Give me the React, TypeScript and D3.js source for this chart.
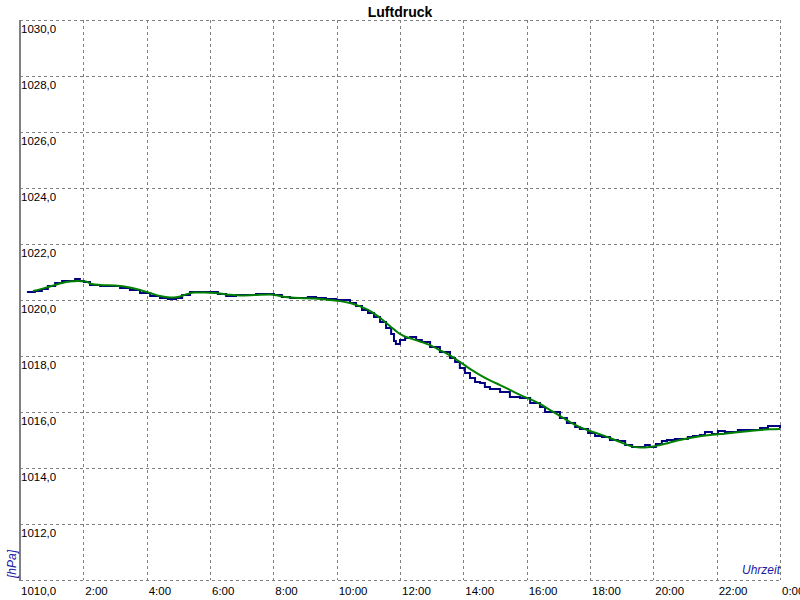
import React from "react";
import * as d3 from "d3";

const W = 800;
const H = 600;
const M = { left: 20, right: 20, top: 20, bottom: 20 };

const yTicks = [1010, 1012, 1014, 1016, 1018, 1020, 1022, 1024, 1026, 1028, 1030];
const xTicks = [0, 2, 4, 6, 8, 10, 12, 14, 16, 18, 20, 22, 24];
const xTickLabels = ["", "2:00", "4:00", "6:00", "8:00", "10:00", "12:00", "14:00", "16:00", "18:00", "20:00", "22:00", "0:00"];

// measured pressure (hours, hPa)
const measuredHours = [
  0.22, 0.47, 0.69, 0.88, 1.11, 1.33, 1.58, 1.74, 1.89, 2.02, 2.21, 2.53, 2.84, 3.16, 3.47, 3.79,
  4.11, 4.42, 4.67, 4.93, 5.12, 5.37, 5.68, 6.0, 6.25, 6.51, 6.82, 7.14, 7.45, 7.77, 8.02, 8.27,
  8.53, 8.84, 9.09, 9.35, 9.66, 9.98, 10.26, 10.42, 10.61, 10.8, 10.99, 11.18, 11.37, 11.56, 11.72,
  11.81, 11.87, 12.0, 12.16, 12.32, 12.51, 12.69, 12.95, 13.26, 13.58, 13.74, 13.89, 14.05, 14.21,
  14.37, 14.53, 14.68, 14.84, 15.16, 15.47, 15.79, 16.11, 16.42, 16.58, 16.83, 17.05, 17.27, 17.53,
  17.68, 17.94, 18.16, 18.38, 18.63, 18.88, 19.11, 19.33, 19.58, 19.74, 19.89, 20.08, 20.27, 20.43,
  20.68, 20.91, 21.09, 21.25, 21.47, 21.63, 21.85, 22.04, 22.26, 22.48, 22.67, 22.89, 23.12, 23.37,
  23.62, 23.84, 24.0,
];
const measuredValues = [
  1020.29, 1020.32, 1020.39, 1020.5, 1020.61, 1020.68, 1020.68, 1020.75, 1020.68, 1020.64, 1020.54,
  1020.5, 1020.5, 1020.43, 1020.36, 1020.25, 1020.14, 1020.07, 1020.04, 1020.07, 1020.18, 1020.29,
  1020.29, 1020.29, 1020.21, 1020.14, 1020.18, 1020.18, 1020.21, 1020.21, 1020.18, 1020.11, 1020.07,
  1020.07, 1020.11, 1020.07, 1020.04, 1020.0, 1020.0, 1019.89, 1019.79, 1019.64, 1019.54, 1019.39,
  1019.21, 1019.0, 1018.79, 1018.54, 1018.43, 1018.57, 1018.64, 1018.68, 1018.57, 1018.5, 1018.32,
  1018.14, 1017.93, 1017.79, 1017.57, 1017.39, 1017.21, 1017.07, 1017.04, 1016.89, 1016.82, 1016.71,
  1016.54, 1016.5, 1016.32, 1016.18, 1016.0, 1016.0, 1015.79, 1015.61, 1015.46, 1015.39, 1015.25,
  1015.14, 1015.11, 1015.0, 1014.96, 1014.82, 1014.75, 1014.75, 1014.82, 1014.75, 1014.86, 1014.96,
  1015.0, 1015.04, 1015.04, 1015.11, 1015.14, 1015.18, 1015.29, 1015.21, 1015.32, 1015.29, 1015.29,
  1015.36, 1015.36, 1015.36, 1015.43, 1015.5, 1015.5, 1015.43,
];

// smoothed pressure (hours, hPa)
const smoothHours = [
  0.41, 0.63, 0.88, 1.11, 1.33, 1.58, 1.83, 2.08, 2.27, 2.53, 3.0, 3.47, 3.79, 4.11, 4.42, 4.74, 4.99,
  5.24, 5.53, 5.84, 6.16, 6.54, 6.95, 7.42, 7.89, 8.37, 8.84, 9.32, 9.79, 10.11, 10.42, 10.74, 11.05,
  11.37, 11.68, 12.0, 12.19, 12.38, 12.63, 12.95, 13.26, 13.58, 13.89, 14.21, 14.53, 14.84, 15.16,
  15.47, 15.79, 16.11, 16.42, 16.74, 17.05, 17.37, 17.68, 18.0, 18.32, 18.63, 18.95, 19.26, 19.58,
  19.89, 20.21, 20.53, 20.84, 21.16, 21.47, 21.79, 22.11, 22.42, 22.74, 23.05, 23.37, 23.68, 24.0,
];
const smoothValues = [
  1020.32, 1020.38, 1020.46, 1020.54, 1020.61, 1020.66, 1020.68, 1020.66, 1020.57, 1020.54, 1020.52,
  1020.45, 1020.36, 1020.25, 1020.14, 1020.09, 1020.11, 1020.2, 1020.27, 1020.27, 1020.25, 1020.2,
  1020.16, 1020.18, 1020.2, 1020.11, 1020.07, 1020.05, 1020.0, 1019.96, 1019.89, 1019.77, 1019.61,
  1019.36, 1019.07, 1018.79, 1018.68, 1018.61, 1018.52, 1018.39, 1018.21, 1018.02, 1017.79, 1017.54,
  1017.32, 1017.13, 1016.96, 1016.79, 1016.61, 1016.46, 1016.29, 1016.07, 1015.86, 1015.64, 1015.46,
  1015.32, 1015.2, 1015.07, 1014.93, 1014.79, 1014.73, 1014.75, 1014.82, 1014.91, 1015.0, 1015.07,
  1015.13, 1015.18, 1015.21, 1015.25, 1015.29, 1015.32, 1015.36, 1015.38, 1015.39,
];

const FONT = "'Liberation Sans', Arial, sans-serif";

export default function App() {
  const x = d3.scaleLinear().domain([0, 24]).range([M.left, W - M.right]);
  const y = d3.scaleLinear().domain([1010, 1030]).range([H - M.bottom, M.top]);

  const measured = measuredHours.map((h, i) => [h, measuredValues[i]] as [number, number]);
  const smooth = smoothHours.map((h, i) => [h, smoothValues[i]] as [number, number]);

  const stepLine = d3
    .line<[number, number]>()
    .x((d) => x(d[0]))
    .y((d) => y(d[1]))
    .curve(d3.curveStepAfter);
  const smoothLine = d3
    .line<[number, number]>()
    .x((d) => x(d[0]))
    .y((d) => y(d[1]))
    .curve(d3.curveMonotoneX);

  return (
    <div style={{ position: "fixed", left: 0, top: 0, width: W, height: H, background: "#fff" }}>
      <svg width={W} height={H} style={{ display: "block" }} fontFamily={FONT}>
        <rect x={0} y={0} width={W} height={H} fill="#fff" />
        <text x={W / 2} y={17} textAnchor="middle" fontWeight="bold" fontSize={14} fill="#000">
          Luftdruck
        </text>
        {/* horizontal grid */}
        {yTicks.map((t) => (
          <line
            key={"h" + t}
            x1={x(0)}
            x2={x(24)}
            y1={Math.round(y(t)) + 0.5}
            y2={Math.round(y(t)) + 0.5}
            stroke="#808080"
            strokeWidth={1}
            strokeDasharray="3,3"
          />
        ))}
        {/* vertical grid */}
        {xTicks.slice(1).map((t) => (
          <line
            key={"v" + t}
            x1={Math.round(x(t)) + 0.5}
            x2={Math.round(x(t)) + 0.5}
            y1={y(1030)}
            y2={y(1010)}
            stroke="#808080"
            strokeWidth={1}
            strokeDasharray="3,3"
          />
        ))}
        {/* left axis */}
        <line x1={x(0)} x2={x(0)} y1={y(1030)} y2={y(1010) + 1} stroke="#808080" strokeWidth={2} />
        {/* y tick labels */}
        {yTicks.map((t) => (
          <text key={"yl" + t} x={x(0) + 1} y={t === 1010 ? 595 : y(t) + 13} fontSize={11.5} fill="#000">
            {d3.format(".1f")(t).replace(".", ",")}
          </text>
        ))}
        {/* x tick labels */}
        {xTicks.map((t, i) =>
          xTickLabels[i] ? (
            <text key={"xl" + t} x={x(t) + 2} y={595} fontSize={11.5} fill="#000">
              {xTickLabels[i]}
            </text>
          ) : null
        )}
        {/* axis titles */}
        <text
          transform={`translate(16,${y(1010) - 2}) rotate(-90)`}
          fontSize={12}
          fontStyle="italic"
          fill="#1a1aa6"
        >
          [hPa]
        </text>
        <text x={x(24)} y={574} textAnchor="end" fontSize={12} fontStyle="italic" fill="#1a1aa6">
          Uhrzeit
        </text>
        {/* series */}
        <path d={stepLine(measured) || ""} fill="none" stroke="#000080" strokeWidth={2} />
        <path d={smoothLine(smooth) || ""} fill="none" stroke="#008000" strokeWidth={2} />
      </svg>
    </div>
  );
}
